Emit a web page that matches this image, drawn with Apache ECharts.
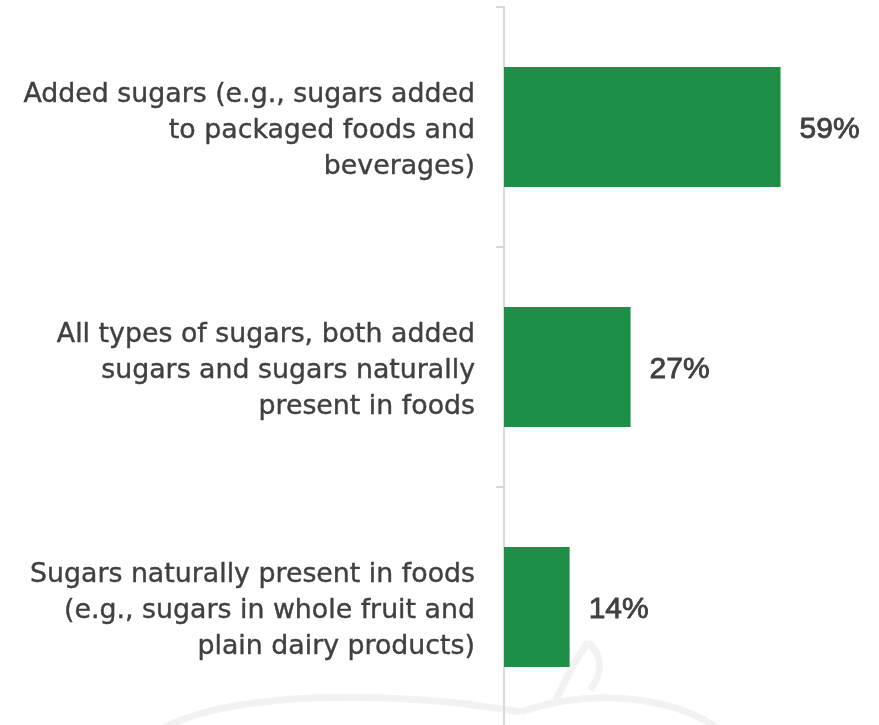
<!DOCTYPE html>
<html><head><meta charset="utf-8">
<script src="https://cdn.jsdelivr.net/npm/echarts@6/dist/echarts.min.js"></script>
<style>html,body{margin:0;padding:0;background:#fff;overflow:hidden}#c{width:879px;height:745px}</style>
</head><body><div id="c"></div>
<script>
const categories = [
  "Added sugars (e.g., sugars added\nto packaged foods and\nbeverages)",
  "All types of sugars, both added\nsugars and sugars naturally\npresent in foods",
  "Sugars naturally present in foods\n(e.g., sugars in whole fruit and\nplain dairy products)"
];
const values = [59, 27, 14];

const wm = {fill: 'none', stroke: '#f2f2f2', lineWidth: 7};
const chart = echarts.init(document.getElementById('c'));
chart.setOption({
  animation: false,
  backgroundColor: '#ffffff',
  graphic: [
    {type: 'bezierCurve', z: -10, silent: true, shape: {x1: 160, y1: 730, cpx1: 230, cpy1: 690, cpx2: 400, cpy2: 690, x2: 520, y2: 712}, style: wm},
    {type: 'bezierCurve', z: -10, silent: true, shape: {x1: 520, y1: 712, cpx1: 600, cpy1: 685, cpx2: 680, cpy2: 700, x2: 720, y2: 730}, style: wm},
    {type: 'bezierCurve', z: -10, silent: true, shape: {x1: 588, y1: 642, cpx1: 575, cpy1: 660, cpx2: 565, cpy2: 680, x2: 556, y2: 700}, style: wm},
    {type: 'bezierCurve', z: -10, silent: true, shape: {x1: 588, y1: 642, cpx1: 602, cpy1: 655, cpx2: 604, cpy2: 672, x2: 590, y2: 690}, style: wm}
  ],
  grid: [
    {left: 504, top: 7, width: 375, height: 720, containLabel: false},
    {left: 504, top: 11, width: 375, height: 720, containLabel: false}
  ],
  xAxis: [
    {type: 'value', min: 0, max: 80, show: false, gridIndex: 0},
    {type: 'value', min: 0, max: 80, show: false, gridIndex: 1}
  ],
  yAxis: [{
    type: 'category', inverse: true, data: categories, gridIndex: 0,
    axisLine: {show: true, lineStyle: {color: '#d9d9d9', width: 2}},
    axisTick: {show: true, length: 8, lineStyle: {color: '#d9d9d9', width: 2}},
    axisLabel: {show: false}
  }, {
    type: 'category', inverse: true, data: categories, gridIndex: 1,
    axisLine: {show: false}, axisTick: {show: false},
    axisLabel: {margin: 29, align: 'right', color: '#404040', fontFamily: 'DejaVu Sans', fontSize: 26.8, lineHeight: 36,
      textBorderColor: '#404040', textBorderWidth: 0.4}
  }],
  series: [{
    type: 'bar', data: values, barWidth: 120, xAxisIndex: 0, yAxisIndex: 0,
    itemStyle: {color: '#1e8f46'},
    label: {show: true, position: 'right', distance: 19, offset: [0, 3], formatter: '{c}%', color: '#404040',
      fontFamily: 'Liberation Sans', fontWeight: 'normal', fontSize: 30,
      textBorderColor: '#404040', textBorderWidth: 0.8}
  }]
});
</script></body></html>
